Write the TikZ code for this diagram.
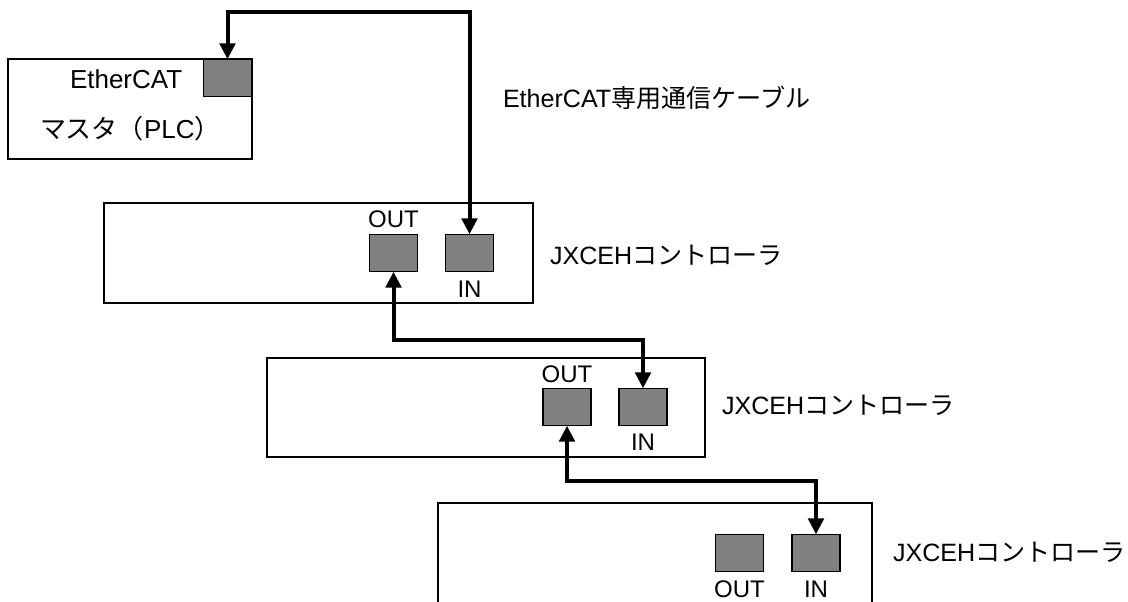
\documentclass[tikz,border=0pt]{standalone}
\usepackage{fontspec}
\setmainfont{Liberation Sans}
\newfontfamily\jp{Noto Sans CJK JP}
\usetikzlibrary{arrows.meta}
\definecolor{portgray}{HTML}{808080}
\begin{document}
\begin{tikzpicture}[x=0.75pt,y=-0.75pt,
  box/.style={draw=black,line width=1.1pt,inner sep=0,outer sep=0},
  port/.style={draw=black,fill=portgray,line width=1.1pt,inner sep=0,outer sep=0,minimum width=36pt,minimum height=28pt},
  cable/.style={line width=3pt,line join=miter,{Triangle[length=12pt,width=11.5pt]}-{Triangle[length=12pt,width=11.5pt]}},
  lbl/.style={inner sep=0,outer sep=0,font=\fontsize{18}{21}\selectfont},
  biglbl/.style={lbl,font=\fontsize{19.5}{23}\selectfont},
  midlbl/.style={lbl,font=\fontsize{18.8}{22}\selectfont}]
\clip (0,0) rectangle (1128,601);
\fill[white] (0,0) rectangle (1128,601);
% boxes
\node[box,minimum width=183pt,minimum height=75pt] (master) at (130,109) {};
\node[box,minimum width=321.75pt,minimum height=75pt] (ctl1) at (318.5,253) {};
\node[box,minimum width=328.5pt,minimum height=74.25pt] (ctl2) at (486,407.5) {};
\node[box,minimum width=325.5pt,minimum height=117.75pt] (ctl3) at (655,581.5) {};
% ports
\node[port] (mport) at (227.5,78) {};
\node[port] (out1) at (393.5,253) {};
\node[port] (in1) at (469.5,253) {};
\node[port] (out2) at (567,407) {};
\node[port] (in2) at (643,407) {};
\node[port] (out3) at (739.5,553) {};
\node[port] (in3) at (816,553) {};
% labels
\node[biglbl,anchor=base west] (tEC) at (70,88) {EtherCAT};
\node[biglbl,anchor=base west] (tM) at (40,138) {{\jp マスタ（}PLC{\jp ）}};
\node[midlbl,anchor=base west] (tCable) at (503,107) {EtherCAT{\jp 専用通信ケーブル}};
\node[midlbl,anchor=base west] (tC1) at (550,264) {JXCEH{\jp コントローラ}};
\node[midlbl,anchor=base west] (tC2) at (722,414) {JXCEH{\jp コントローラ}};
\node[midlbl,anchor=base west] (tC3) at (893,561) {JXCEH{\jp コントローラ}};
\node[lbl,anchor=base] (tO1) at (393.5,227) {OUT};
\node[lbl,anchor=base] (tI1) at (469.5,297) {IN};
\node[lbl,anchor=base] (tO2) at (567,382) {OUT};
\node[lbl,anchor=base] (tI2) at (643,450) {IN};
\node[lbl,anchor=base] (tO3) at (739.5,597) {OUT};
\node[lbl,anchor=base] (tI3) at (816,597) {IN};
% cable routing coordinates
\coordinate (r1) at (0,12);
\coordinate (r2) at (0,340);
\coordinate (r3) at (0,481);
% cables
\draw[cable] (mport.north) -- (mport.north |- r1) -| (in1.north);
\draw[cable] (out1.south) -- (out1.south |- r2) -| (in2.north);
\draw[cable] (out2.south) -- (out2.south |- r3) -| (in3.north);
\end{tikzpicture}
\end{document}
